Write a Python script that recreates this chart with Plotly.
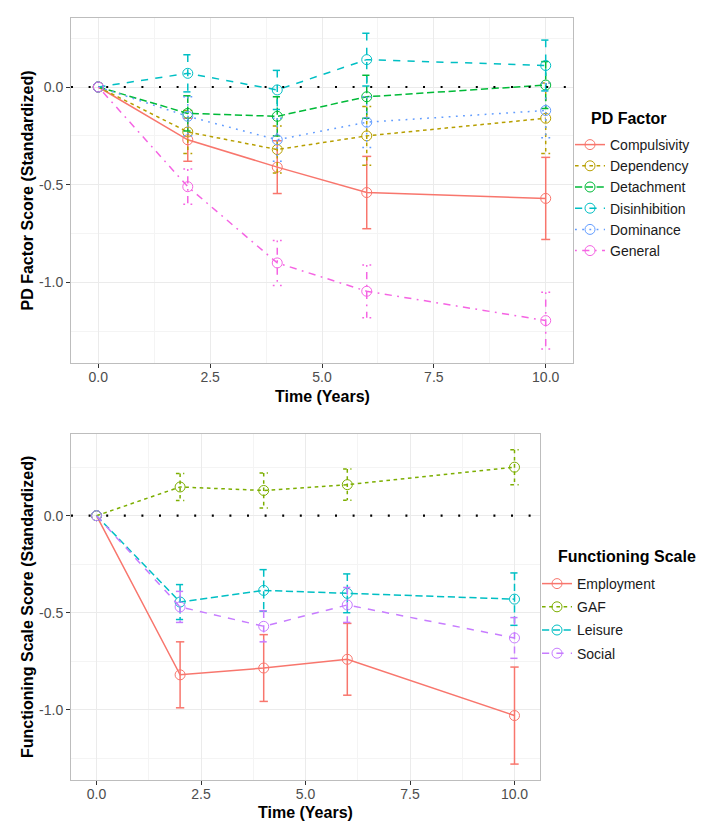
import plotly.graph_objects as go

# ---------------- data ----------------
time = [0, 2, 4, 6, 10]

pd_names = ["Compulsivity", "Dependency", "Detachment", "Disinhibition", "Dominance", "General"]
compulsivity = [0, -0.27, -0.41, -0.54, -0.57]
compulsivity_err = [0, 0.11, 0.135, 0.185, 0.21]
dependency = [0, -0.23, -0.32, -0.25, -0.16]
dependency_err = [0, 0.11, 0.12, 0.15, 0.18]
detachment = [0, -0.135, -0.15, -0.05, 0.01]
detachment_err = [0, 0.09, 0.10, 0.11, 0.12]
disinhibition = [0, 0.07, -0.015, 0.14, 0.11]
disinhibition_err = [0, 0.095, 0.10, 0.135, 0.13]
dominance = [0, -0.15, -0.27, -0.18, -0.12]
dominance_err = [0, 0.10, 0.11, 0.13, 0.14]
general = [0, -0.51, -0.90, -1.045, -1.195]
general_err = [0, 0.09, 0.115, 0.135, 0.145]

fn_names = ["Employment", "GAF", "Leisure", "Social"]
employment = [0, -0.82, -0.785, -0.74, -1.03]
employment_err = [0, 0.17, 0.172, 0.185, 0.25]
gaf = [0, 0.148, 0.13, 0.16, 0.25]
gaf_err = [0, 0.07, 0.09, 0.08, 0.09]
leisure = [0, -0.445, -0.385, -0.40, -0.43]
leisure_err = [0, 0.09, 0.107, 0.10, 0.135]
social = [0, -0.47, -0.57, -0.46, -0.63]
social_err = [0, 0.08, 0.08, 0.09, 0.105]

x_ticks = [0, 2.5, 5, 7.5, 10]
x_ticktext = ["0.0", "2.5", "5.0", "7.5", "10.0"]
y_ticks = [-1.0, -0.5, 0.0]
y_ticktext = ["-1.0", "-0.5", "0.0"]

# ---------------- styles ----------------
pd_colors = ["#F8766D", "#B79F00", "#00BA38", "#00BFC4", "#619CFF", "#F564E3"]
pd_dashes = ["solid", "3.6px,3.6px", "7.2px,3.6px", "7.2px,7.2px", "1.8px,5.4px", "1.8px,5.4px,7.2px,5.4px"]
fn_colors = ["#F8766D", "#7CAE00", "#00BFC4", "#C77CFF"]
fn_dashes = ["solid", "3.6px,3.6px", "7.2px,3.6px", "7.2px,7.2px"]

FONT = "Liberation Sans, Arial, sans-serif"
W, H = 704, 821


def err_path(xs, ys, es, w=0.1):
    px, py = [], []
    for x, y, e in zip(xs, ys, es):
        if e <= 0:
            continue
        px += [x - w, x + w, None, x, x, None, x - w, x + w, None]
        py += [y + e, y + e, None, y + e, y - e, None, y - e, y - e, None]
    return px, py


fig = go.Figure()

pd_vals = [compulsivity, dependency, detachment, disinhibition, dominance, general]
pd_errs = [compulsivity_err, dependency_err, detachment_err, disinhibition_err, dominance_err, general_err]
for name, v, e, c, d in zip(pd_names, pd_vals, pd_errs, pd_colors, pd_dashes):
    ex, ey = err_path(time, v, e)
    fig.add_trace(go.Scatter(x=ex, y=ey, mode="lines", line=dict(color=c, width=1.5, dash=d),
                             showlegend=False, legendgroup=name, hoverinfo="skip",
                             xaxis="x", yaxis="y"))
    fig.add_trace(go.Scatter(x=time, y=v, name=name, mode="lines+markers",
                             line=dict(color=c, width=1.5, dash=d),
                             marker=dict(symbol="circle-open", size=10, color=c, line=dict(width=1)),
                             legendgroup=name, legend="legend", xaxis="x", yaxis="y"))

fn_vals = [employment, gaf, leisure, social]
fn_errs = [employment_err, gaf_err, leisure_err, social_err]
for name, v, e, c, d in zip(fn_names, fn_vals, fn_errs, fn_colors, fn_dashes):
    ex, ey = err_path(time, v, e)
    fig.add_trace(go.Scatter(x=ex, y=ey, mode="lines", line=dict(color=c, width=1.5, dash=d),
                             showlegend=False, legendgroup="f" + name, hoverinfo="skip",
                             xaxis="x2", yaxis="y2"))
    fig.add_trace(go.Scatter(x=time, y=v, name=name, mode="lines+markers",
                             line=dict(color=c, width=1.5, dash=d),
                             marker=dict(symbol="circle-open", size=10, color=c, line=dict(width=1)),
                             legendgroup="f" + name, legend="legend2", xaxis="x2", yaxis="y2"))


def px_x(p):
    return p / W


def px_y(p):
    return 1 - p / H


common_x = dict(range=[-0.61, 10.61], tickmode="array", tickvals=x_ticks, ticktext=x_ticktext,
                showgrid=True, gridcolor="#EBEBEB", gridwidth=1, zeroline=False,
                showline=True, mirror=True, linecolor="#BDBDBD", linewidth=1,
                ticks="outside", ticklen=4, tickcolor="#333333", ticklabelstandoff=-3,
                tickfont=dict(family=FONT, size=14, color="#4D4D4D"),
                minor=dict(tickmode="array", tickvals=[1.25, 3.75, 6.25, 8.75], showgrid=True,
                           gridcolor="#F4F4F4", gridwidth=1))
common_y = dict(tickmode="array", tickvals=y_ticks, ticktext=y_ticktext,
                showgrid=True, gridcolor="#EBEBEB", gridwidth=1, zeroline=False,
                showline=True, mirror=True, linecolor="#BDBDBD", linewidth=1,
                ticks="outside", ticklen=4, tickcolor="#333333",
                tickfont=dict(family=FONT, size=14, color="#4D4D4D"),
                minor=dict(tickmode="array", tickvals=[0.25, -0.25, -0.75, -1.25], showgrid=True,
                           gridcolor="#F4F4F4", gridwidth=1))

title_font = dict(family=FONT, size=16, color="black", weight="bold")

fig.update_layout(
    width=W, height=H,
    margin=dict(l=0, r=0, t=0, b=0),
    paper_bgcolor="white", plot_bgcolor="white",
    font=dict(family=FONT, size=14, color="black"),
    xaxis=dict(domain=[px_x(63), px_x(565)], anchor="y", **common_x),
    yaxis=dict(domain=[px_y(355), px_y(10)], anchor="x", range=[-1.412, 0.353], **common_y),
    xaxis2=dict(domain=[px_x(63), px_x(532)], anchor="y2", **common_x),
    yaxis2=dict(domain=[px_y(772), px_y(426)], anchor="x2", range=[-1.362, 0.421], **common_y),
    legend=dict(x=px_x(562), xanchor="left", y=px_y(121), yanchor="top",
                font=dict(family=FONT, size=14, color="#1A1A1A"), bgcolor="rgba(0,0,0,0)",
                itemwidth=30, tracegroupgap=0),
    legend2=dict(x=px_x(529), xanchor="left", y=px_y(560), yanchor="top",
                 font=dict(family=FONT, size=14, color="#1A1A1A"), bgcolor="rgba(0,0,0,0)",
                 itemwidth=30, tracegroupgap=2),
    shapes=[
        dict(type="line", xref="x domain", yref="y", x0=0, x1=1, y0=0, y1=0,
             line=dict(color="black", width=2.2, dash="2px,15.6px"), layer="above"),
        dict(type="line", xref="x2 domain", yref="y2", x0=0, x1=1, y0=0, y1=0,
             line=dict(color="black", width=2.2, dash="2px,15.6px"), layer="above"),
    ],
    annotations=[
        dict(text="PD Factor Score (Standardized)", x=px_x(19), y=px_y(182.5), xref="paper", yref="paper",
             textangle=-90, showarrow=False, xanchor="center", yanchor="middle", font=title_font),
        dict(text="Time (Years)", x=px_x(314), y=px_y(388), xref="paper", yref="paper",
             showarrow=False, xanchor="center", yanchor="middle", font=title_font),
        dict(text="Functioning Scale Score (Standardized)", x=px_x(19), y=px_y(599), xref="paper", yref="paper",
             textangle=-90, showarrow=False, xanchor="center", yanchor="middle", font=title_font),
        dict(text="Time (Years)", x=px_x(297.5), y=px_y(804), xref="paper", yref="paper",
             showarrow=False, xanchor="center", yanchor="middle", font=title_font),
        dict(text="PD Factor", x=px_x(581), y=px_y(110), xref="paper", yref="paper",
             showarrow=False, xanchor="left", yanchor="middle", font=title_font),
        dict(text="Functioning Scale", x=px_x(548), y=px_y(548), xref="paper", yref="paper",
             showarrow=False, xanchor="left", yanchor="middle", font=title_font),
    ],
)

fig.write_html("out.html")
